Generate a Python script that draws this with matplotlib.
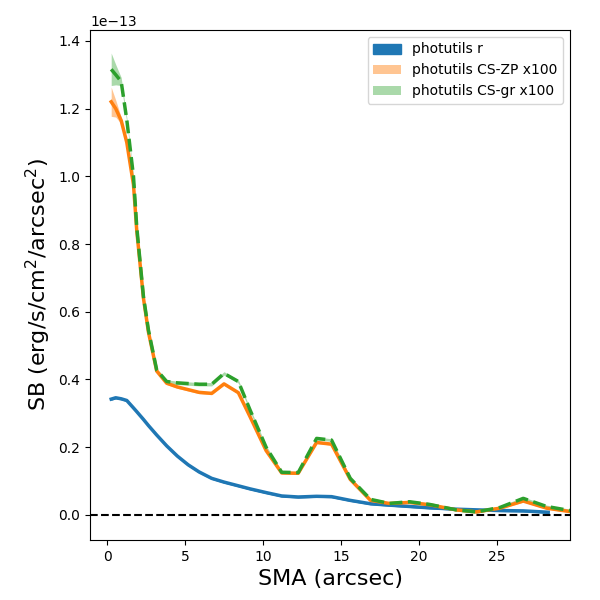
import numpy as np
import matplotlib
matplotlib.use("Agg")
import matplotlib.pyplot as plt

# SMA grid (arcsec) for the colour-scaled profiles
sma = [0.26, 0.55, 0.9, 1.26, 1.69, 1.9, 2.33, 2.65, 3.18, 3.82, 4.5, 5.2, 5.9,
       6.71, 7.5, 8.42, 9.17, 10.2, 11.2, 12.26, 13.44, 14.4, 15.6, 16.9, 18.1,
       19.4, 20.7, 22.4, 23.7, 25.2, 26.7, 28.2, 29.7]

# photutils CS-ZP x100 (units of 1e-13)
sb_zp = [1.22, 1.20, 1.165, 1.10, 0.975, 0.84, 0.64, 0.54, 0.425, 0.389, 0.378,
         0.37, 0.362, 0.359, 0.387, 0.361, 0.29, 0.19, 0.124, 0.123, 0.214, 0.209,
         0.105, 0.043, 0.034, 0.037, 0.030, 0.015, 0.009, 0.020, 0.041, 0.020, 0.010]
err_zp = [0.043, 0.025, 0.010, 0.006, 0.005, 0.005, 0.004, 0.004, 0.004, 0.004,
          0.004, 0.004, 0.004, 0.004, 0.004, 0.004, 0.004, 0.004, 0.003, 0.003,
          0.003, 0.003, 0.003, 0.003, 0.003, 0.003, 0.003, 0.003, 0.003, 0.003,
          0.003, 0.003, 0.003]

# photutils CS-gr x100
sb_gr = [1.316, 1.30, 1.28, 1.167, 1.0, 0.85, 0.645, 0.546, 0.428, 0.394, 0.39,
         0.388, 0.386, 0.386, 0.418, 0.394, 0.31, 0.20, 0.126, 0.125, 0.226, 0.221,
         0.108, 0.046, 0.034, 0.039, 0.031, 0.015, 0.009, 0.022, 0.049, 0.025, 0.013]
err_gr = [0.048, 0.03, 0.012, 0.007, 0.006, 0.006, 0.005, 0.005, 0.005, 0.005,
          0.005, 0.005, 0.005, 0.005, 0.005, 0.005, 0.005, 0.005, 0.004, 0.004,
          0.004, 0.004, 0.004, 0.004, 0.004, 0.004, 0.004, 0.004, 0.004, 0.004,
          0.004, 0.004, 0.004]

# photutils r
sma_r = [0.26, 0.55, 0.9, 1.26, 1.69, 1.9, 2.33, 2.65, 3.18, 3.82, 4.5, 5.2, 5.9,
         6.71, 7.5, 8.42, 9.17, 10.2, 11.2, 12.26, 13.44, 14.4, 15.6, 16.9, 18.1,
         19.4, 20.7, 22.4, 23.7, 25.2, 26.7, 28.3]
sb_r = [0.342, 0.346, 0.343, 0.338, 0.316, 0.305, 0.282, 0.264, 0.236, 0.204,
        0.174, 0.148, 0.127, 0.108, 0.097, 0.086, 0.077, 0.066, 0.056, 0.053,
        0.055, 0.054, 0.043, 0.033, 0.029, 0.025, 0.021, 0.017, 0.015, 0.013,
        0.012, 0.008]
err_r = 0.001

scale = 1e-13
sma = np.array(sma)
sma_r = np.array(sma_r)
zp = np.array(sb_zp) * scale
gr = np.array(sb_gr) * scale
r = np.array(sb_r) * scale
ezp = np.array(err_zp) * scale
egr = np.array(err_gr) * scale
er = err_r * scale

fig, ax = plt.subplots(figsize=(6, 6), dpi=100)
fig.subplots_adjust(left=0.15, right=0.95, top=0.95, bottom=0.1)

ax.fill_between(sma_r, r - er, r + er, color='C0', label='photutils r')
ax.plot(sma_r, r, color='C0', lw=2.5)

ax.fill_between(sma, zp - ezp, zp + ezp, color='C1', alpha=0.45, lw=0,
                label='photutils CS-ZP x100')
ax.plot(sma, zp, color='C1', lw=2.5)

ax.fill_between(sma, gr - egr, gr + egr, color='C2', alpha=0.4, lw=0,
                label='photutils CS-gr x100')
ax.plot(sma, gr, color='C2', lw=2.5, ls='--')

ax.axhline(0, color='k', ls='--', lw=1.5)

ax.set_xlim(-1.1, 29.7)
ax.set_ylim(-0.074e-13, 1.432e-13)
ax.set_xticks([0, 5, 10, 15, 20, 25])
ax.set_xlabel('SMA (arcsec)', fontsize=16)
ax.set_ylabel('SB (erg/s/cm$^2$/arcsec$^2$)', fontsize=16)
ax.legend(loc='upper right')

plt.savefig('out.png', dpi=100)
